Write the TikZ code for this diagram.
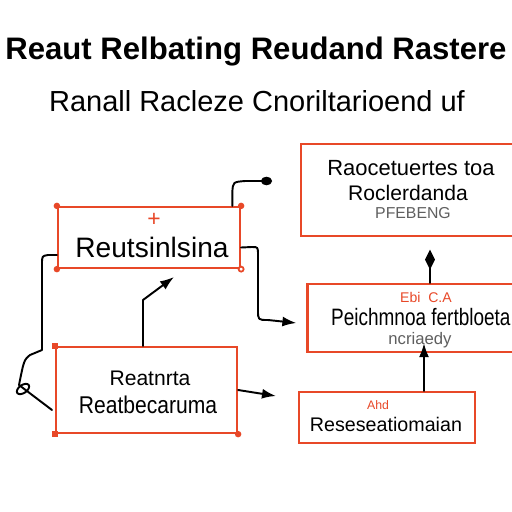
\documentclass[tikz,border=0pt]{standalone}
\usepackage{fontspec}
\setmainfont{Liberation Sans}
\usetikzlibrary{arrows.meta}

\definecolor{boxred}{RGB}{232,72,40}
\definecolor{lblgray}{RGB}{95,95,95}

\begin{document}
\begin{tikzpicture}[x=0.02cm,y=-0.02cm,
  box/.style={draw=boxred, line width=1.3pt, inner sep=0pt},
  link/.style={draw, line width=1.1pt, line cap=round, line join=round},
  tip/.style={-{Latex[length=0.28cm,width=0.2cm]}},
  corner/.style={fill=boxred, circle, inner sep=0pt, minimum size=0.13cm}]
\clip (0,0) rectangle (512,512);
\fill[white] (0,0) rectangle (512,512);

% titles
\node[font=\fontsize{17.7}{17.7}\selectfont\bfseries] (title) at (256,52) {Reaut Relbating Reudand Rastere};
\node[font=\fontsize{16.5}{16.5}\selectfont] (subtitle) at (257,101) {Ranall Racleze Cnoriltarioend uf};

% boxes
\node[box, minimum width=3.64cm, minimum height=1.22cm] (A) at (149,237.5) {};
\node[box, minimum width=4.6cm, minimum height=1.84cm] (B) at (416,190) {};
\node[box, minimum width=4.5cm, minimum height=1.36cm] (C) at (420,318) {};
\node[box, minimum width=3.52cm, minimum height=1.02cm] (D) at (387,417.5) {};
\node[box, minimum width=3.62cm, minimum height=1.72cm] (E) at (146.5,390) {};

% corner marks
\node[corner] at (A.north west) {};
\node[corner] at (A.north east) {};
\node[corner] at (A.south west) {};
\node[corner, fill=white, draw=boxred, line width=1pt, minimum size=0.1cm] at (A.south east) {};
\node[corner, rectangle] at (E.north west) {};
\node[corner, rectangle] at (E.south west) {};
\node[corner] at (E.south east) {};

% box texts
\node[text=boxred, font=\fontsize{13}{13}\selectfont] (aplus) at (154,220) {+};
\node[font=\fontsize{16}{16}\selectfont] (atext) at (152,247) {Reutsinlsina};

\node[font=\fontsize{12.5}{12.5}\selectfont] (btext1) at (411,168) {Raocetuertes toa};
\node[font=\fontsize{12}{12}\selectfont] (btext2) at (408,193) {Roclerdanda};
\node[text=lblgray, font=\fontsize{9}{9}\selectfont] (btext3) at (413,213) {PFEBENG};

\node[text=boxred, font=\fontsize{8}{8}\selectfont] (ctext1) at (426,297) {Ebi \;C.A};
\node[anchor=west, font=\fontsize{13.5}{13.5}\selectfont] (ctext2) at (325,317) {\scalebox{0.8}[1]{Peichmnoa fertbloeta}};
\node[text=lblgray, font=\fontsize{9.5}{9.5}\selectfont] (ctext3) at (420,340) {ncriaedy};

\node[text=boxred, font=\fontsize{7}{7}\selectfont] (dtext1) at (378,405) {Ahd};
\node[font=\fontsize{11.2}{11.2}\selectfont] (dtext2) at (386,424) {Reseseatiomaian};

\node[font=\fontsize{12}{12}\selectfont] (etext1) at (150,378) {Reatnrta};
\node[font=\fontsize{12}{12}\selectfont] (etext2) at (148,405) {\scalebox{1}[1.15]{Reatbecaruma}};

% free ends
\coordinate (topdot) at (272,181);
\coordinate (upend) at (174,277);
\coordinate (rightend) at (276,396);
\coordinate (tailend) at (52,410);

% connectors
\path[link, -{Circle[length=0.22cm,width=0.17cm]}] ([xshift=-5pt]A.north east) -- ++(0,-14)
  .. controls (233,182) .. (245,181) -- (topdot);
\path[link, tip] ([yshift=-0.2cm]A.east) -- (252,247) .. controls (258,247) .. (258,255)
  -- (258,310) .. controls (258,320) .. (268,320) -- ([xshift=-0.2cm,yshift=-0.1cm]C.west);
\path[link] ([yshift=-0.35cm]A.west) -- (48,255) .. controls (42,256) .. (42,264)
  -- (42,350) -- (30,355) .. controls (24,360) .. (19,385) -- (tailend);
\draw[line width=1.1pt, rotate around={35:(23,389)}] (23,389) ellipse (0.14cm and 0.08cm);
\path[link, tip] (E.north -| 143,0) -- (143,300) -- (upend);
\path[link, tip] ([yshift=0cm]E.east) -- (rightend);
\path[link, tip] (D.north -| 424,0) -- ([yshift=0.2cm]C.south -| 424,0);
\path[link, -{Kite[length=0.4cm,width=0.2cm,inset=0.2cm]}] (C.north -| 430,0) -- ([yshift=-0.25cm]B.south -| 430,0);
\end{tikzpicture}
\end{document}
